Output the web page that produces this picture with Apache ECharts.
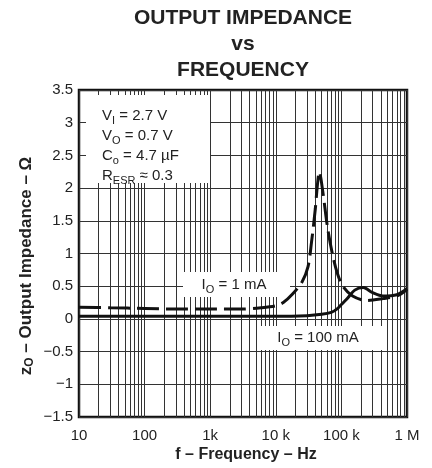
<!DOCTYPE html>
<html>
<head>
<meta charset="utf-8">
<script src="https://cdn.jsdelivr.net/npm/echarts@6/dist/echarts.min.js"></script>
<style>
html,body{margin:0;padding:0;background:#fff;}
#c{width:432px;height:468px;}
</style>
</head>
<body>
<div id="c"></div>
<script>
// ---- data ----
const freq1mA = [10, 30, 100, 300, 1000, 3000, 6000, 10000, 13000, 18000, 25000, 31000, 35000, 40000, 43000, 46000, 52000, 61000, 72000, 86000, 105000, 148000, 245000, 430000, 700000, 1000000];
const z1mA    = [0.18, 0.17, 0.16, 0.15, 0.15, 0.15, 0.17, 0.2, 0.25, 0.38, 0.56, 0.8, 1.17, 1.68, 2.04, 2.25, 1.95, 1.42, 1.02, 0.71, 0.5, 0.35, 0.28, 0.31, 0.35, 0.45];
const freq100mA = [10, 100, 1000, 10000, 30000, 50000, 70000, 85000, 100000, 120000, 160000, 215000, 300000, 430000, 700000, 1000000];
const z100mA    = [0.04, 0.04, 0.04, 0.04, 0.05, 0.07, 0.1, 0.15, 0.22, 0.3, 0.44, 0.48, 0.4, 0.35, 0.37, 0.46];
const xTickValues = [10, 100, 1000, 10000, 100000, 1000000];
const xTickLabels = ['10', '100', '1k', '10 k', '100 k', '1 M'];
const decades = [10, 100, 1000, 10000, 100000];
const minorMultipliers = [2, 3, 4, 5, 6, 7, 8, 9];

const FONT = "'Liberation Sans', Arial, sans-serif";
const minorLines = [];
decades.forEach(d => minorMultipliers.forEach(m => minorLines.push({ xAxis: d * m })));

const chart = echarts.init(document.getElementById('c'), null, { renderer: 'canvas' });
const subStyle = { fontSize: 11, lineHeight: 11, verticalAlign: 'bottom', fontFamily: FONT, fill: '#222' };
const nStyle = { fontSize: 15, lineHeight: 20, fontFamily: FONT, fill: '#222' };

chart.setOption({
  animation: false,
  backgroundColor: '#fff',
  grid: { left: 79, right: 25, top: 90, bottom: 51, show: true, borderColor: '#111', borderWidth: 2.5, backgroundColor: 'transparent' },
  xAxis: {
    type: 'log', logBase: 10, min: 10, max: 1000000,
    axisLine: { show: false }, axisTick: { show: false },
    splitLine: { show: true, lineStyle: { color: '#333', width: 1 } },
    axisLabel: {
      fontSize: 15, color: '#222', fontFamily: FONT, margin: 11,
      formatter: v => {
        const i = xTickValues.findIndex(t => Math.abs(Math.log10(t) - Math.log10(v)) < 1e-6);
        return i >= 0 ? xTickLabels[i] : '';
      }
    }
  },
  yAxis: {
    type: 'value', min: -1.5, max: 3.5, interval: 0.5,
    axisLine: { show: false }, axisTick: { show: false },
    splitLine: { show: true, lineStyle: { color: '#333', width: 1 } },
    axisLabel: { fontSize: 15, color: '#222', fontFamily: FONT, margin: 6,
      formatter: v => String(v).replace('-', '\u2212') }
  },
  series: [
    {
      type: 'line', data: [], z: 2, silent: true,
      markLine: {
        silent: true, animation: false, symbol: ['none', 'none'],
        label: { show: false },
        lineStyle: { color: '#333', width: 1, type: 'solid' },
        emphasis: { disabled: true },
        data: minorLines
      }
    },
    {
      name: 'IO = 1 mA', type: 'line', zlevel: 2, z: 10, smooth: 0.3, showSymbol: false, silent: true,
      data: freq1mA.map((f, i) => [f, z1mA[i]]),
      lineStyle: { color: '#111', width: 3, type: [22, 7], cap: 'butt' }
    },
    {
      name: 'IO = 100 mA', type: 'line', zlevel: 2, z: 10, smooth: 0.3, showSymbol: false, silent: true,
      data: freq100mA.map((f, i) => [f, z100mA[i]]),
      lineStyle: { color: '#111', width: 3 }
    }
  ],
  graphic: [
    { type: 'rect', zlevel: 1, z: 5, shape: { x: 86, y: 95, width: 124, height: 88 }, style: { fill: '#fff' } },
    { type: 'rect', zlevel: 1, z: 5, shape: { x: 183, y: 272, width: 107, height: 25 }, style: { fill: '#fff' } },
    { type: 'rect', zlevel: 1, z: 5, shape: { x: 259, y: 326, width: 128, height: 24 }, style: { fill: '#fff' } },
    { type: 'text', zlevel: 1, z: 6, x: 243, y: 5, style: {
        text: 'OUTPUT IMPEDANCE\nvs\nFREQUENCY', fontSize: 21, fontWeight: 'bold', lineHeight: 26,
        fontFamily: FONT, fill: '#222', align: 'center', verticalAlign: 'top' } },
    { type: 'text', zlevel: 1, z: 6, x: 102, y: 106, style: {
        text: '{n|V}{s|I}{n| = 2.7 V}\n{n|V}{s|O}{n| = 0.7 V}\n{n|C}{s|o}{n| = 4.7 \u00b5F}\n{n|R}{s|ESR}{n| \u2248 0.3}',
        fontSize: 15, lineHeight: 20, fontFamily: FONT, fill: '#222', align: 'left', verticalAlign: 'top',
        rich: { n: nStyle, s: subStyle } } },
    { type: 'text', zlevel: 1, z: 6, x: 234, y: 285, style: {
        text: '{n|I}{s|O}{n| = 1 mA}', fontSize: 15, lineHeight: 20, fontFamily: FONT, fill: '#222',
        align: 'center', verticalAlign: 'middle', rich: { n: nStyle, s: subStyle } } },
    { type: 'text', zlevel: 1, z: 6, x: 318, y: 338, style: {
        text: '{n|I}{s|O}{n| = 100 mA}', fontSize: 15, lineHeight: 20, fontFamily: FONT, fill: '#222',
        align: 'center', verticalAlign: 'middle', rich: { n: nStyle, s: subStyle } } },
    { type: 'text', zlevel: 1, z: 6, x: 246, y: 455, style: {
        text: 'f \u2013 Frequency \u2013 Hz', fontSize: 16, fontWeight: 'bold', fontFamily: FONT, fill: '#222',
        align: 'center', verticalAlign: 'middle' } },
    { type: 'text', zlevel: 1, z: 6, x: 26, y: 266, rotation: Math.PI / 2, style: {
        text: '{b|z}{bs|O}{b| \u2013 Output Impedance \u2013 \u03a9}', fontSize: 17, fontWeight: 'bold', fontFamily: FONT, fill: '#222',
        align: 'center', verticalAlign: 'middle',
        rich: {
          b: { fontSize: 17, fontWeight: 'bold', lineHeight: 20, fontFamily: FONT, fill: '#222' },
          bs: { fontSize: 12, fontWeight: 'bold', lineHeight: 12, verticalAlign: 'bottom', fontFamily: FONT, fill: '#222' }
        } } }
  ]
});
</script>
</body>
</html>
